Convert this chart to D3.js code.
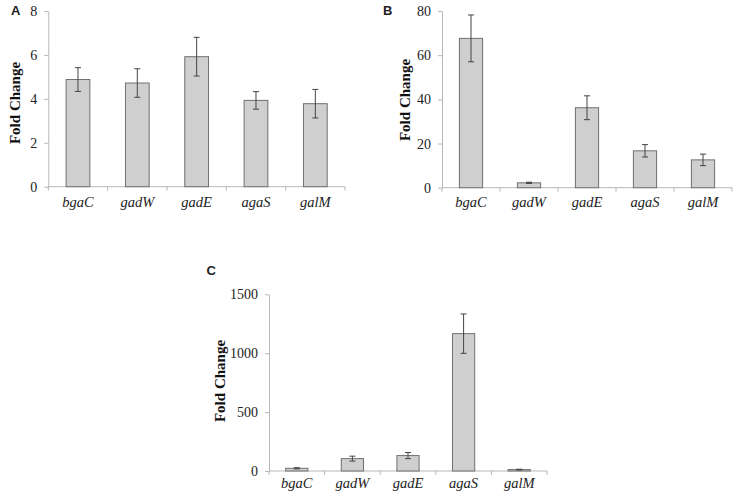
<!DOCTYPE html>
<html><head><meta charset="utf-8">
<script src="https://cdn.jsdelivr.net/npm/d3@7"></script>
<style>body{margin:0;background:#fff}svg{display:block}
.serif{font-family:"Liberation Serif","Times New Roman",serif}</style>
</head><body>
<svg id="c" width="737" height="496"></svg>
<script>
const categories = ["bgaC","gadW","gadE","agaS","galM"];
const valuesA = [4.88, 4.72, 5.92, 3.93, 3.78];
const errA    = [0.54, 0.65, 0.88, 0.40, 0.65];
const valuesB = [67.6, 2.2, 36.2, 16.7, 12.6];
const errB    = [10.6, 0.3, 5.4, 2.8, 2.6];
const valuesC = [23, 105, 131, 1166, 12];
const errC    = [5, 21, 26, 167, 3];
const ticksA = [0, 2, 4, 6, 8];
const ticksB = [0, 20, 40, 60, 80];
const ticksC = [0, 500, 1000, 1500];
const panelLetters = ["A","B","C"];
const yTitle = "Fold Change";

const panels = [
  {letter: panelLetters[0], vals: valuesA, errs: errA, ticks: ticksA,
   x0: 48.3, x1: 345, yt: 11, yb: 186.7, lx: 11, ly: 15, tx: 20, ty: 103, lab: 20},
  {letter: panelLetters[1], vals: valuesB, errs: errB, ticks: ticksB,
   x0: 442, x1: 732, yt: 11, yb: 187.7, lx: 383, ly: 15, tx: 410, ty: 100, lab: 19},
  {letter: panelLetters[2], vals: valuesC, errs: errC, ticks: ticksC,
   x0: 269, x1: 547, yt: 294.3, yb: 471, lx: 206.5, ly: 275, tx: 225, ty: 381, lab: 17}
];

const svg = d3.select("#c");
const axisColor = "#b8b8b8";
const serif = '"Liberation Serif", "Times New Roman", serif';

panels.forEach(p => {
  const g = svg.append("g");
  const pad = 0.6;
  const x = d3.scaleBand().domain(categories).range([p.x0, p.x1])
    .paddingInner(pad).paddingOuter(pad/2);
  const y = d3.scaleLinear().domain([0, d3.max(p.ticks)]).range([p.yb, p.yt]);

  // y axis
  const ya = g.append("g").attr("transform", `translate(${p.x0},0)`)
    .call(d3.axisLeft(y).tickValues(p.ticks).tickFormat(d3.format("d"))
      .tickSize(4).tickSizeOuter(0).tickPadding(7));
  ya.attr("font-family", null).style("font-family", serif).attr("font-size", null);
  ya.select(".domain").attr("stroke", axisColor);
  ya.selectAll(".tick line").attr("stroke", axisColor);
  ya.selectAll(".tick text").style("font-family", serif)
    .style("font-size", "14px").attr("fill", "#222");

  // x axis line and boundary ticks
  g.append("line").attr("x1", p.x0).attr("x2", p.x1).attr("y1", p.yb).attr("y2", p.yb)
    .attr("stroke", axisColor);
  const step = x.step();
  g.selectAll("line.bt").data(d3.range(categories.length + 1)).join("line")
    .attr("class", "bt")
    .attr("x1", i => p.x0 + i * step).attr("x2", i => p.x0 + i * step)
    .attr("y1", p.yb).attr("y2", p.yb + 4).attr("stroke", axisColor);

  // category labels
  g.selectAll("text.cat").data(categories).join("text")
    .attr("class", "cat")
    .attr("x", d => x(d) + x.bandwidth() / 2).attr("y", p.yb + p.lab)
    .attr("text-anchor", "middle")
    .style("font-family", serif)
    .style("font-style", "italic").style("font-size", "14.5px").attr("fill", "#222")
    .text(d => d);

  // bars
  const data = categories.map((c, i) => ({c, v: p.vals[i], e: p.errs[i]}));
  g.selectAll("rect.bar").data(data).join("rect")
    .attr("class", "bar")
    .attr("x", d => x(d.c)).attr("width", x.bandwidth())
    .attr("y", d => y(d.v)).attr("height", d => y(0) - y(d.v))
    .attr("fill", "#cfcfcf").attr("stroke", "#707070").attr("stroke-width", 1);

  // error bars
  const eb = g.selectAll("g.err").data(data).join("g").attr("class", "err")
    .attr("stroke", "#444").attr("stroke-width", 1);
  const cx = d => x(d.c) + x.bandwidth() / 2;
  eb.append("line").attr("x1", cx).attr("x2", cx)
    .attr("y1", d => y(d.v + d.e)).attr("y2", d => y(d.v - d.e));
  eb.append("line").attr("x1", d => cx(d) - 3).attr("x2", d => cx(d) + 3)
    .attr("y1", d => y(d.v + d.e)).attr("y2", d => y(d.v + d.e));
  eb.append("line").attr("x1", d => cx(d) - 3).attr("x2", d => cx(d) + 3)
    .attr("y1", d => y(d.v - d.e)).attr("y2", d => y(d.v - d.e));

  // y title
  g.append("text")
    .attr("transform", `translate(${p.tx},${p.ty}) rotate(-90)`)
    .attr("text-anchor", "middle")
    .style("font-family", serif)
    .style("font-weight", "bold").style("font-size", "15px").attr("fill", "#111")
    .text(yTitle);

  // panel letter
  g.append("text").attr("x", p.lx).attr("y", p.ly)
    .style("font-family", '"Liberation Sans", Arial, sans-serif')
    .style("font-weight", "bold").style("font-size", "13px").attr("fill", "#222")
    .text(p.letter);
});
</script>
</body></html>
